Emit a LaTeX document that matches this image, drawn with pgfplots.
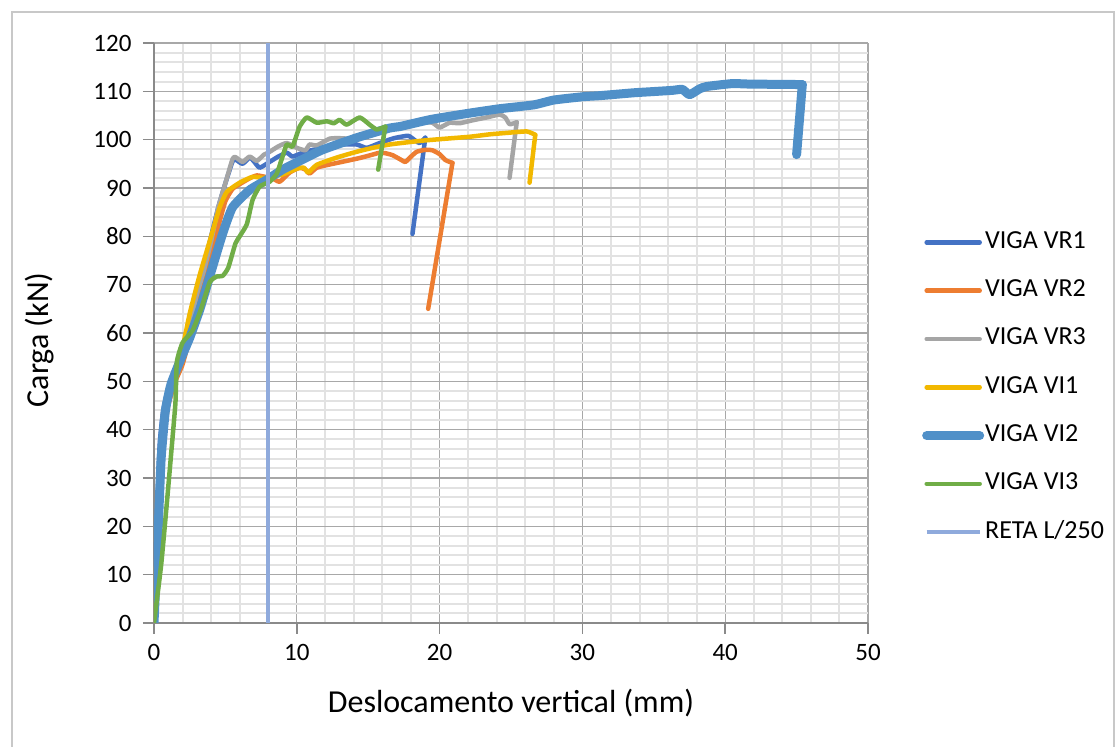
\documentclass[border=0pt]{standalone}
\usepackage{pgfplots}
\pgfplotsset{compat=1.18}
\usepackage{fontspec}
\setmainfont{Carlito}
\definecolor{cVRa}{HTML}{4472C4}
\definecolor{cVRb}{HTML}{ED7D31}
\definecolor{cVRc}{HTML}{A5A5A5}
\definecolor{cVIa}{HTML}{F2B800}
\definecolor{cVIb}{HTML}{5090C8}
\definecolor{cVIc}{HTML}{70AD47}
\definecolor{cReta}{HTML}{8FAADC}
\definecolor{majg}{HTML}{A8A8A8}
\definecolor{ming}{HTML}{E2E2E2}
\definecolor{axg}{HTML}{8A8A8A}
\begin{document}
\begin{tikzpicture}[x=1pt,y=1pt]
\useasboundingbox (0,0) rectangle (1117,747);
\draw[color={rgb,255:red,200;green,200;blue,200}, line width=1.2pt] (12,0) -- (12,735) -- (1114,735) -- (1114,0);
\begin{axis}[
  at={(154pt,124pt)}, anchor=south west, scale only axis,
  width=714pt, height=580pt,
  xmin=0, xmax=50, ymin=0, ymax=120,
  xtick={0,10,...,50}, ytick={0,10,...,120},
  minor xtick={2,4,6,8,12,14,16,18,22,24,26,28,32,34,36,38,42,44,46,48},
  minor ytick={2,4,6,8,12,14,16,18,22,24,26,28,32,34,36,38,42,44,46,48,52,54,56,58,62,64,66,68,72,74,76,78,82,84,86,88,92,94,96,98,102,104,106,108,112,114,116,118},
  grid=both,
  major grid style={draw=majg, line width=1.3pt},
  minor grid style={draw=ming, line width=2pt},
  axis x line*=bottom, axis y line*=left,
  axis line style={draw=axg, line width=1.8pt, -},
  tick align=outside,
  major tick length=11pt, minor tick length=0pt,
  every tick/.style={draw=axg, line width=1.5pt},
  tick label style={font=\fontsize{25}{29}\selectfont, text=black},
  xticklabel style={yshift=-7pt},
  yticklabel style={xshift=-8pt},
  /pgf/number format/assume math mode=true,
  xlabel={Deslocamento vertical (mm)},
  ylabel={Carga (kN)},
  label style={font=\fontsize{32}{36}\selectfont, text=black},
  xlabel style={at={(axis description cs:0.5,-0.138)}, anchor=center},
  ylabel style={at={(axis description cs:-0.160,0.488)}, anchor=center},
  legend style={at={(axis description cs:1.0756,0.679)}, anchor=north west,
    draw=none, fill=none, inner sep=0pt, row sep=22.3pt,
    font=\fontsize{26}{30}\selectfont,
    nodes={text height=18pt, text depth=6pt, inner sep=1pt}},
  legend cell align=left,
  legend image code/.code={\draw[#1] (0pt,0pt) -- (53pt,0pt);},
  every axis plot/.append style={line join=round, line cap=round},
]
\addplot[cVRa, line width=4.5pt, smooth, tension=0.3] coordinates {(0,0) (0.2,21) (0.4,37) (0.65,44) (1.1,49.5) (1.5,51) (2.0,56) (2.5,62) (3.0,68) (3.5,74) (4.0,80) (4.5,86) (5.0,91) (5.5,95.5) (5.7,95.9) (6.2,95.0) (6.7,96.3) (7.0,95.5) (7.4,94.2) (8.1,95.4) (8.7,96.5) (9.3,97.3) (9.7,96.5) (10.4,97.3) (11.0,97.8) (11.8,98.3) (12.5,98.6) (13.3,99) (14.2,99) (14.9,98.3) (15.8,99.3) (16.8,100.3) (17.8,100.8) (18.3,99.8) (18.6,99.3) (19.0,100.4)};
\addlegendentry{VIGA VR1}
\addplot[cVRa, line width=4.5pt, forget plot] coordinates {(19.0,100.4) (18.1,80.5)};
\addplot[cVRb, line width=4.5pt, smooth, tension=0.3] coordinates {(0,0) (0.3,20) (0.6,37) (1.0,45) (1.5,50) (2.0,53.5) (2.5,59) (3.0,65) (3.5,70) (4.0,76) (4.5,82) (5.0,87.3) (5.5,89.8) (6.0,90.8) (6.7,92.0) (7.2,92.6) (7.8,92.3) (8.3,92.0) (8.8,91.3) (9.5,93.2) (10.2,94.2) (10.6,93.8) (10.9,93.0) (11.4,94.2) (12.2,94.8) (13.0,95.3) (14.4,96.2) (15.3,96.9) (15.8,97.3) (16.2,97.2) (16.7,96.8) (17.2,96.0) (17.6,95.4) (18.0,96.5) (18.4,97.5) (19.0,97.9) (19.5,97.8) (20.0,97.0) (20.4,95.8) (20.7,95.4) (20.9,95.2)};
\addlegendentry{VIGA VR2}
\addplot[cVRb, line width=4.5pt, forget plot] coordinates {(20.9,95.2) (19.2,65)};
\addplot[cVRc, line width=4.5pt, smooth, tension=0.3] coordinates {(0,0) (0.3,24) (0.7,41) (1.2,49) (2.0,56) (2.5,61) (3.0,68) (3.5,73) (4.0,79) (4.5,86) (5.0,91) (5.5,96) (5.7,96.4) (6.2,95.4) (6.7,96.5) (7.2,95.6) (7.7,96.9) (8.0,97.3) (8.7,98.6) (9.3,99.3) (10.0,98.3) (10.6,97.8) (10.9,99.0) (11.4,98.8) (12.3,100.2) (13.0,100.3) (14.0,100.2) (15.0,101.2) (16.5,102.6) (17.5,103.2) (18.8,103.6) (19.5,103.5) (20.0,102.5) (20.7,103.5) (21.4,103.4) (22.3,104.0) (23.3,104.6) (24.2,105.2) (24.6,104.6) (24.9,103.2) (25.4,103.6)};
\addlegendentry{VIGA VR3}
\addplot[cVRc, line width=4.5pt, forget plot] coordinates {(25.4,103.6) (24.9,92.1)};
\addplot[cVIa, line width=4.5pt, smooth, tension=0.3] coordinates {(0,0) (0.3,22) (0.6,40) (1.2,49) (2.0,57) (2.5,64) (3.2,72) (3.9,79) (4.6,86) (5.1,89.2) (6.0,91.1) (6.9,92.3) (7.7,92.1) (9.0,92.8) (10.0,94.0) (10.5,94.2) (10.8,93.2) (11.4,94.8) (12.8,96.3) (14.2,97.5) (15.3,98.3) (16.5,99.0) (17.6,99.4) (18.8,99.8) (20.0,100.1) (22.1,100.6) (23.5,101.1) (24.7,101.4) (26.1,101.7) (26.7,101.0)};
\addlegendentry{VIGA VI1}
\addplot[cVIa, line width=4.5pt, forget plot] coordinates {(26.7,101.0) (26.3,91.1)};
\addplot[cVIb, line width=9pt, smooth, tension=0.3] coordinates {(0,0) (0.3,20) (0.5,34) (0.8,44) (1.2,49.5) (2.0,55.5) (2.5,59) (3.2,64.8) (3.9,71.7) (4.8,80.5) (5.5,86) (6.7,89.6) (7.9,91.7) (9.0,93.8) (10.4,95.9) (11.8,97.9) (14.2,100.4) (16.5,102.4) (17.2,102.7) (18.8,103.8) (19.6,104.3) (21.9,105.4) (24.2,106.4) (26.6,107.2) (28.0,108.2) (30.1,108.9) (31.2,109.1) (33.6,109.7) (34.7,109.9) (36.3,110.2) (37.0,110.4) (37.5,109.3) (38.2,110.5) (38.7,111.0) (40.5,111.6) (41.7,111.5) (45.4,111.4)};
\addlegendentry{VIGA VI2}
\addplot[cVIb, line width=9pt, forget plot] coordinates {(45.4,111.4) (45.0,96.9)};
\addplot[cVIc, line width=4.5pt, smooth, tension=0.3] coordinates {(0,0) (0.5,12) (0.9,24.8) (1.2,35) (1.5,45.5) (1.6,54) (2.0,58) (2.7,60.5) (3.3,65) (3.9,70.5) (4.4,71.7) (4.8,71.8) (5.2,73.5) (5.7,78.5) (6.0,80) (6.5,82.5) (6.9,87.5) (7.4,90.3) (8.1,91.3) (8.6,93) (9.0,96.5) (9.3,99) (9.7,98.6) (10.2,102.7) (10.7,104.6) (11.4,103.5) (12.1,103.8) (12.6,103.4) (13.0,104.1) (13.5,103.1) (14.4,104.6) (15.1,103.1) (15.6,102.1) (16.2,102.7)};
\addlegendentry{VIGA VI3}
\addplot[cVIc, line width=4.5pt, forget plot] coordinates {(16.2,102.7) (15.7,93.8)};
\addplot[cReta, line width=4.5pt, line cap=butt] coordinates {(8,0) (8,120)};
\addlegendentry{RETA L/250}
\end{axis}
\end{tikzpicture}
\end{document}
